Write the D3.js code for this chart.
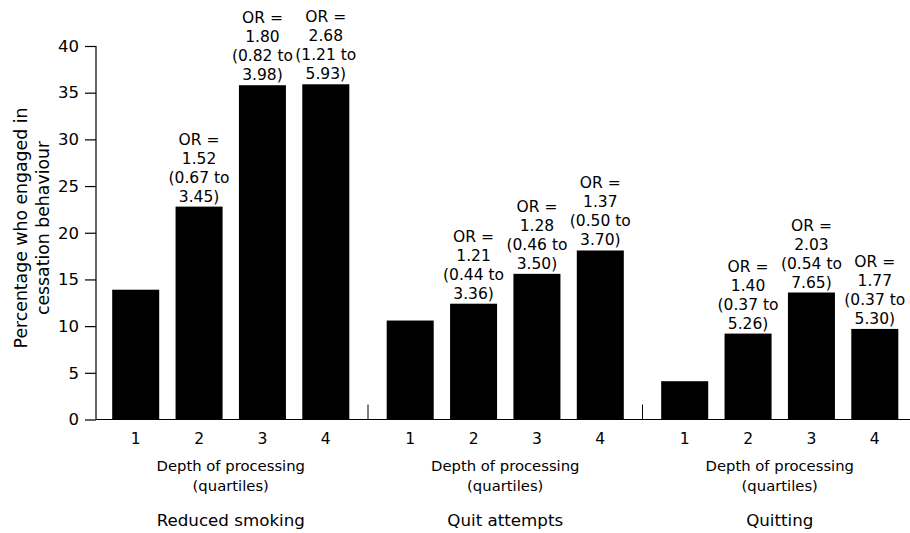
<!DOCTYPE html>
<html><head><meta charset="utf-8">
<script src="https://cdn.jsdelivr.net/npm/d3@7"></script>
<style>body{margin:0;background:#fff}svg{display:block}text{font-family:"DejaVu Sans",sans-serif;fill:#000}</style>
</head><body><svg id="c" width="910" height="533"></svg>
<script>
const groups = ["Reduced smoking", "Quit attempts", "Quitting"];
const quartiles = ["1", "2", "3", "4"];
const reducedSmoking = [13.9, 22.8, 35.8, 35.9];
const quitAttempts = [10.6, 12.4, 15.6, 18.1];
const quitting = [4.1, 9.2, 13.6, 9.7];
const reducedSmokingOR = [null, ["OR =", "1.52", "(0.67 to", "3.45)"], ["OR =", "1.80", "(0.82 to", "3.98)"], ["OR =", "2.68", "(1.21 to", "5.93)"]];
const quitAttemptsOR = [null, ["OR =", "1.21", "(0.44 to", "3.36)"], ["OR =", "1.28", "(0.46 to", "3.50)"], ["OR =", "1.37", "(0.50 to", "3.70)"]];
const quittingOR = [null, ["OR =", "1.40", "(0.37 to", "5.26)"], ["OR =", "2.03", "(0.54 to", "7.65)"], ["OR =", "1.77", "(0.37 to", "5.30)"]];
const yTicks = [0, 5, 10, 15, 20, 25, 30, 35, 40];
const xSubtitle = ["Depth of processing", "(quartiles)"];
const yTitle = ["Percentage who engaged in", "cessation behaviour"];

const values = [reducedSmoking, quitAttempts, quitting];
const ors = [reducedSmokingOR, quitAttemptsOR, quittingOR];

const FONT = "'DejaVu Sans',sans-serif";
const svg = d3.select("#c");
const axisX = 96, g0 = 93.5, g1 = 917, y0 = 419.5, yTop = 46;
const y = d3.scaleLinear().domain([0, 40]).range([y0, yTop]);
const gx = d3.scaleBand().domain(groups).range([g0, g1]).padding(0);
const bx = d3.scaleBand().domain(quartiles).range([0, gx.bandwidth()]).paddingInner(0.258).paddingOuter(0.295);

// y axis
const ya = svg.append("g").attr("transform", `translate(${axisX},0)`)
  .call(d3.axisLeft(y).tickValues(yTicks).tickSize(11).tickPadding(6));
ya.select(".domain").remove();
ya.selectAll(".tick line").attr("stroke", "#000").attr("stroke-width", 1.2);
ya.selectAll(".tick text").attr("font-size", 16.5).style("font-family", FONT).attr("fill", "#000");
svg.append("line").attr("x1", axisX).attr("x2", axisX).attr("y1", yTop).attr("y2", y0).attr("stroke", "#000").attr("stroke-width", 1.2);
svg.append("line").attr("x1", axisX).attr("x2", 910).attr("y1", y0).attr("y2", y0).attr("stroke", "#000").attr("stroke-width", 1.2);

// group separators
groups.slice(1).forEach(g => {
  svg.append("line").attr("x1", gx(g)).attr("x2", gx(g)).attr("y1", y0 - 15).attr("y2", y0).attr("stroke", "#000").attr("stroke-width", 1);
});

groups.forEach((g, gi) => {
  const G = svg.append("g").attr("transform", `translate(${gx(g)},0)`);
  G.selectAll("rect").data(values[gi]).join("rect")
    .attr("x", (d, i) => bx(quartiles[i])).attr("width", bx.bandwidth())
    .attr("y", d => y(d)).attr("height", d => y0 - y(d)).attr("fill", "#000");
  G.selectAll("text.q").data(quartiles).join("text").attr("class", "q")
    .attr("x", d => bx(d) + bx.bandwidth() / 2).attr("y", 444)
    .attr("text-anchor", "middle").attr("font-size", 15.5).text(d => d);
  ors[gi].forEach((lines, i) => {
    if (!lines) return;
    const cx = bx(quartiles[i]) + bx.bandwidth() / 2;
    const base = y(values[gi][i]) - 5;
    lines.forEach((t, k) => {
      G.append("text").attr("x", cx).attr("y", base - (lines.length - 1 - k) * 19)
        .attr("text-anchor", "middle").attr("font-size", 15.5).text(t);
    });
  });
  const c = gx.bandwidth() / 2;
  xSubtitle.forEach((t, k) => {
    G.append("text").attr("x", c).attr("y", 471 + k * 20).attr("text-anchor", "middle").attr("font-size", 14.8).text(t);
  });
  G.append("text").attr("x", c).attr("y", 526).attr("text-anchor", "middle").attr("font-size", 16.7).text(g);
});

// y title
yTitle.forEach((t, k) => {
  svg.append("text").attr("transform", `translate(${27 + k * 22},228) rotate(-90)`)
    .attr("text-anchor", "middle").attr("font-size", 17.3).text(t);
});
</script></body></html>
